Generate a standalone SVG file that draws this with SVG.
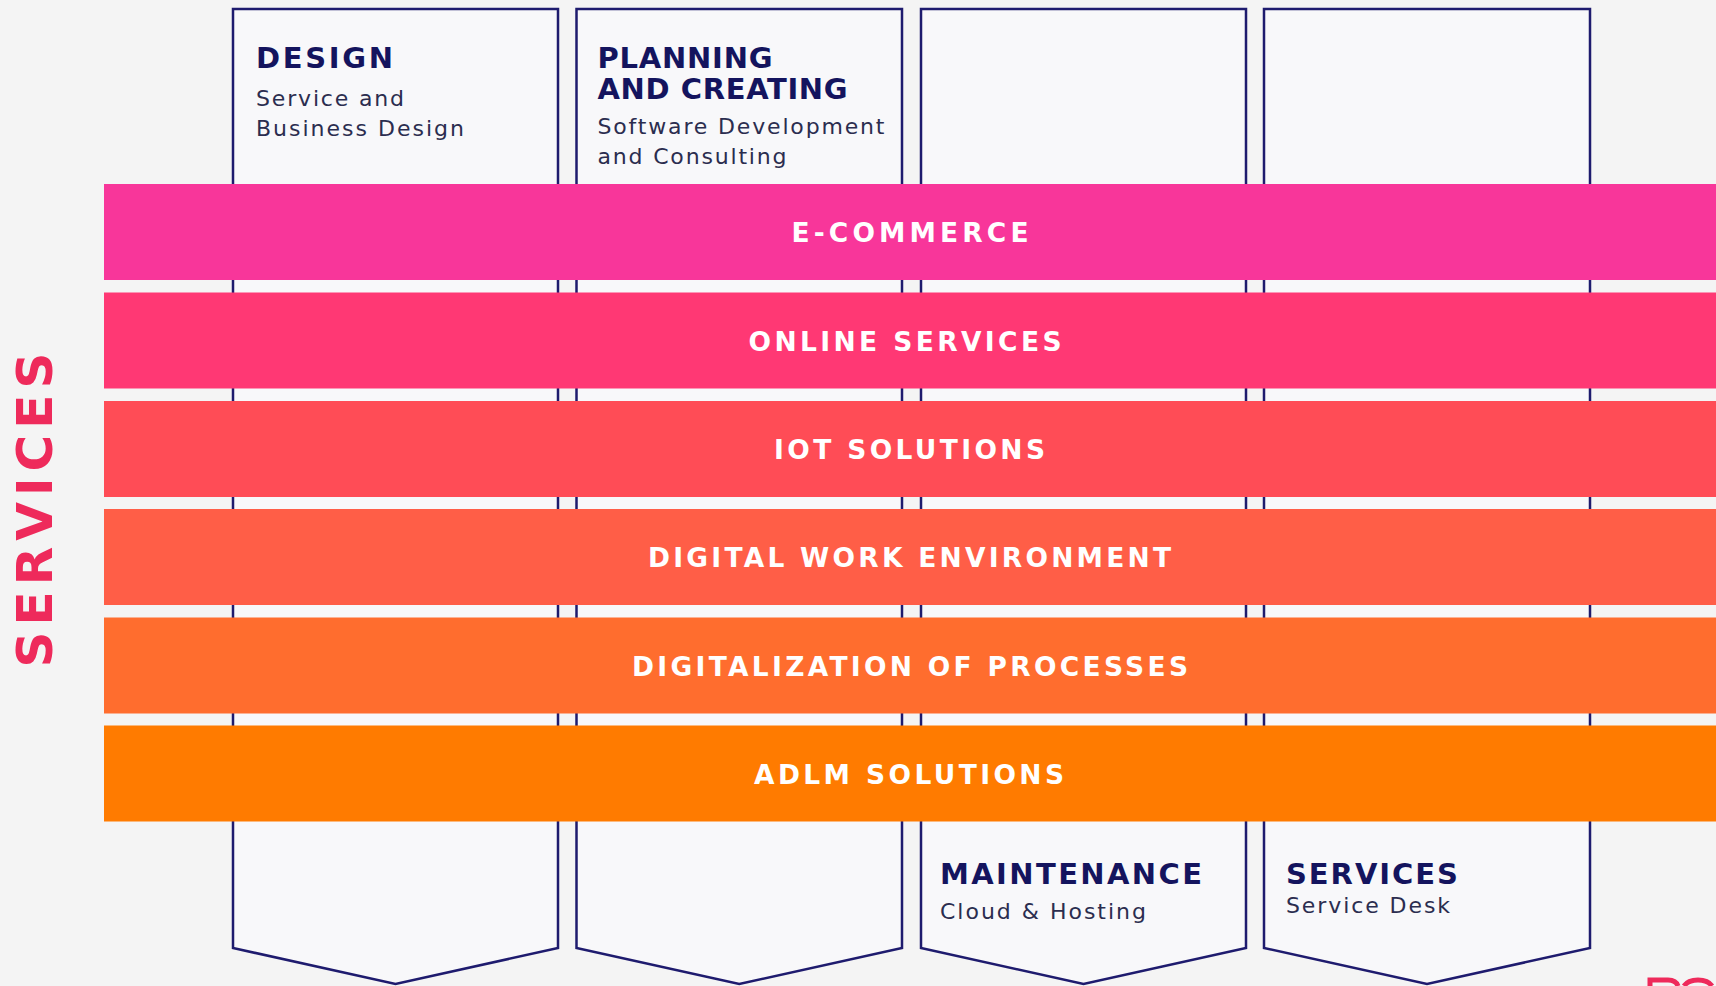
<svg xmlns="http://www.w3.org/2000/svg" width="1716" height="986" viewBox="0 0 1716 986">
<style>
.col{fill:#F8F8FA;stroke:#1E1B6E;stroke-width:2.5;stroke-linejoin:miter}
.h{font-family:"DejaVu Sans","Liberation Sans",sans-serif;font-weight:700;font-size:29px;fill:#14145E}
.s{font-family:"DejaVu Sans","Liberation Sans",sans-serif;font-weight:400;font-size:22px;fill:#2B2D4F}
.b{font-family:"DejaVu Sans","Liberation Sans",sans-serif;font-weight:700;font-size:26.5px;fill:#FFFFFF;text-anchor:middle}
.side{font-family:"DejaVu Sans","Liberation Sans",sans-serif;font-weight:700;font-size:50px;fill:#EE2A5B;text-anchor:middle}
</style>
<rect x="0" y="0" width="1716" height="986" fill="#F4F4F4"/>
<g id="col-design"><path class="col" d="M233,9 H558 V948 L395.5,984 L233,948 Z"/>
<text class="h" x="256" y="68" textLength="137">DESIGN</text>
<text class="s" x="256" y="106" textLength="148">Service and</text>
<text class="s" x="256" y="136" textLength="208">Business Design</text></g>
<g id="col-planning"><path class="col" d="M576.5,9 H902 V948 L739.25,984 L576.5,948 Z"/>
<text class="h" x="597.5" y="68" textLength="175">PLANNING</text>
<text class="h" x="597.5" y="99" textLength="250">AND CREATING</text>
<text class="s" x="597.5" y="134" textLength="287">Software Development</text>
<text class="s" x="597.5" y="164" textLength="189">and Consulting</text></g>
<g id="col-maintenance"><path class="col" d="M921,9 H1246 V948 L1083.5,984 L921,948 Z"/>
<text class="h" x="940" y="884" textLength="262">MAINTENANCE</text>
<text class="s" x="940" y="919" textLength="206">Cloud &amp; Hosting</text></g>
<g id="col-services"><path class="col" d="M1264,9 H1590 V948 L1427,984 L1264,948 Z"/>
<text class="h" x="1286" y="884" textLength="172">SERVICES</text>
<text class="s" x="1286" y="913" textLength="164">Service Desk</text></g>
<g id="band-ecommerce"><rect x="104" y="184" width="1612" height="96" fill="#F8369A"/>
<text class="b" x="910" y="242" textLength="237">E-COMMERCE</text></g>
<g id="band-online"><rect x="104" y="292.5" width="1612" height="96" fill="#FF3874"/>
<text class="b" x="905" y="351" textLength="313">ONLINE SERVICES</text></g>
<g id="band-iot"><rect x="104" y="401" width="1612" height="96" fill="#FF4C56"/>
<text class="b" x="909.5" y="459" textLength="271">IOT SOLUTIONS</text></g>
<g id="band-dwe"><rect x="104" y="509" width="1612" height="96" fill="#FF5E47"/>
<text class="b" x="909.5" y="567" textLength="523">DIGITAL WORK ENVIRONMENT</text></g>
<g id="band-dop"><rect x="104" y="617.5" width="1612" height="96" fill="#FF6D2E"/>
<text class="b" x="910" y="675.5" textLength="556">DIGITALIZATION OF PROCESSES</text></g>
<g id="band-adlm"><rect x="104" y="725.5" width="1612" height="96" fill="#FF7B00"/>
<text class="b" x="909" y="783.5" textLength="310">ADLM SOLUTIONS</text></g>
<g id="side-label"><text class="side" transform="translate(52,510) rotate(-90)" textLength="315">SERVICES</text></g>
<g id="connectors"></g>
<g id="logo-fragment"><path d="M1650,986 V980 H1668 Q1676,980 1678,986 M1684,986 Q1688,980 1698,980 Q1708,980 1712,986" fill="none" stroke="#EE2A5B" stroke-width="5"/></g>
</svg>
